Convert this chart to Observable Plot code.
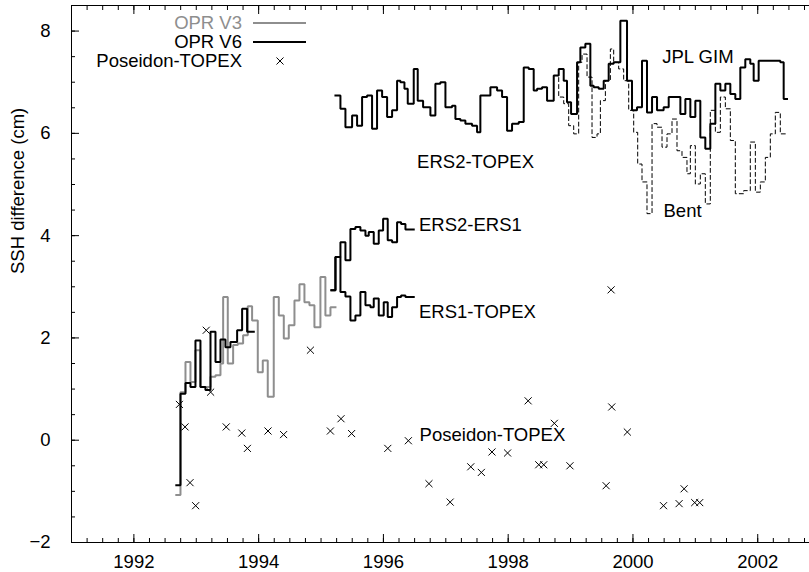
<!DOCTYPE html>
<html><head><meta charset="utf-8">
<script src="https://cdn.jsdelivr.net/npm/d3@7"></script>
<script src="https://cdn.jsdelivr.net/npm/@observablehq/plot@0.6"></script>
<style>body{margin:0;background:#fff;overflow:hidden} svg{display:block}</style>
</head><body><div id="chart"></div>
<script>
// ---- data (years, SSH difference in cm); last point closes the final step ----
const v3Years = [1992.68,1992.747,1992.827,1992.907,1992.987,1993.067,1993.228,1993.308,1993.388,1993.431,1993.505,1993.591,1993.666,1993.751,1993.826,1993.895,1993.986,1994.066,1994.146,1994.242,1994.323,1994.403,1994.483,1994.574,1994.654,1994.734,1994.814,1994.894,1994.990,1995.070,1995.151,1995.231];
const v3Values = [-1.07,0.94,1.53,1.14,1.76,1.04,1.24,1.27,1.50,2.80,1.50,1.86,1.89,2.05,2.62,2.34,1.33,1.56,0.85,2.80,2.44,1.99,2.25,2.73,3.05,2.70,2.64,2.21,3.19,2.44,2.60,2.60];

const v6EarlyYears = [1992.68,1992.747,1992.827,1992.907,1992.987,1993.067,1993.147,1993.228,1993.308,1993.388,1993.468,1993.548,1993.655,1993.735,1993.815,1993.922];
const v6EarlyValues = [-0.88,0.91,1.12,1.04,1.95,1.04,0.98,2.12,1.53,1.97,1.82,1.92,2.15,2.57,2.12,2.12];

const ers2ers1Years = [1995.167,1995.231,1995.311,1995.391,1995.471,1995.551,1995.631,1995.712,1995.765,1995.845,1995.925,1995.995,1996.069,1996.139,1996.219,1996.283,1996.353,1996.486];
const ers2ers1Values = [2.93,3.58,3.87,3.52,4.13,4.17,4.10,4.00,4.07,3.84,4.10,4.33,3.91,3.87,4.26,4.23,4.12,4.12];

const ers1topexYears = [1995.167,1995.231,1995.311,1995.391,1995.471,1995.551,1995.631,1995.712,1995.792,1995.845,1995.925,1996.005,1996.069,1996.139,1996.219,1996.283,1996.353,1996.486];
const ers1topexValues = [2.93,3.58,2.90,2.81,2.34,2.44,2.90,2.64,2.60,2.77,2.44,2.70,2.41,2.60,2.80,2.83,2.80,2.80];

const ers2topexYears = [1995.231,1995.311,1995.391,1995.498,1995.578,1995.658,1995.738,1995.818,1995.898,1995.979,1996.059,1996.139,1996.219,1996.272,1996.337,1996.390,1996.486,1996.550,1996.636,1996.753,1996.833,1996.913,1996.994,1997.100,1997.154,1997.234,1997.314,1997.421,1997.501,1997.554,1997.715,1997.822,1997.902,1997.982,1998.062,1998.169,1998.249,1998.329,1998.409,1998.463,1998.543,1998.623,1998.730,1998.810,1998.890,1998.943,1999.008,1999.104,1999.157,1999.237,1999.317,1999.371,1999.451,1999.531,1999.611,1999.691,1999.798,1999.905,1999.985,2000.065,2000.145,2000.225,2000.306,2000.386,2000.492,2000.573,2000.760,2000.840,2000.920,2001.000,2001.080,2001.160,2001.240,2001.321,2001.401,2001.481,2001.561,2001.641,2001.721,2001.801,2001.881,2001.935,2002.015,2002.362,2002.416,2002.469];
const ers2topexValues = [6.74,6.48,6.12,6.35,6.15,6.71,6.74,6.09,6.84,6.71,6.32,6.45,7.03,7.00,6.87,6.58,7.26,6.64,6.51,6.35,6.97,7.00,6.51,6.54,6.28,6.25,6.19,6.15,6.02,6.74,6.90,6.84,6.71,6.05,6.19,6.22,7.29,7.26,6.84,6.87,6.90,6.64,7.13,7.26,7.03,6.61,6.38,7.39,7.68,7.75,6.93,6.90,6.87,7.03,7.36,7.39,8.20,7.03,6.45,6.51,7.42,6.41,6.71,6.45,6.51,6.71,6.38,6.67,6.32,6.64,5.92,5.70,6.19,6.97,6.84,6.97,6.77,6.67,7.29,7.45,7.36,7.03,7.42,7.39,6.67,6.67];

const bentYears = [1998.730,1998.810,1998.890,1998.970,1999.050,1999.130,1999.184,1999.264,1999.344,1999.424,1999.478,1999.558,1999.638,1999.691,1999.771,1999.851,1999.932,2000.012,2000.076,2000.145,2000.225,2000.306,2000.386,2000.466,2000.546,2000.626,2000.706,2000.786,2000.866,2000.920,2001.000,2001.080,2001.160,2001.240,2001.321,2001.401,2001.481,2001.561,2001.641,2001.775,2001.881,2001.962,2002.042,2002.122,2002.202,2002.282,2002.362,2002.469];
const bentValues = [7.13,6.71,6.58,6.15,5.99,7.39,7.55,7.10,5.92,5.99,6.64,7.03,7.65,7.39,7.26,7.03,6.45,6.02,5.40,5.05,4.43,6.19,6.12,5.73,5.99,6.28,5.66,5.53,5.21,5.76,5.01,5.21,4.62,6.45,6.02,6.71,6.48,5.86,4.82,4.88,5.83,4.85,5.05,5.53,5.99,6.41,5.99,5.99];

const poseidonYears = [1992.73,1992.82,1992.90,1992.99,1993.16,1993.23,1993.48,1993.73,1993.82,1994.15,1994.40,1994.83,1995.15,1995.32,1995.49,1996.07,1996.40,1996.73,1997.07,1997.40,1997.57,1997.74,1997.99,1998.32,1998.49,1998.57,1998.74,1998.99,1999.65,1999.57,1999.66,1999.91,2000.49,2000.74,2000.82,2000.99,2001.07];
const poseidonValues = [0.70,0.26,-0.83,-1.28,2.15,0.94,0.26,0.14,-0.16,0.18,0.11,1.76,0.18,0.42,0.13,-0.16,-0.01,-0.85,-1.21,-0.52,-0.63,-0.23,-0.25,0.77,-0.48,-0.48,0.33,-0.50,2.94,-0.89,0.65,0.16,-1.28,-1.24,-0.95,-1.22,-1.22];

const labelTexts = ["JPL GIM","ERS2-TOPEX","Bent","ERS2-ERS1","ERS1-TOPEX","Poseidon-TOPEX"];
const labelYears = [2000.47,1996.54,2000.49,1996.57,1996.57,1996.58];
const labelValues = [7.49,5.44,4.49,4.20,2.51,0.10];

const xMajorTicks = [1992,1994,1996,1998,2000,2002];
const yMajorTicks = [-2,0,2,4,6,8];
const legendNames = ["OPR V3","OPR V6","Poseidon-TOPEX"];

// ---- build tables ----
const zip = (xs, ys) => xs.map((x, i) => ({x, y: ys[i]}));
const v3 = zip(v3Years, v3Values);
const v6early = zip(v6EarlyYears, v6EarlyValues);
const e21 = zip(ers2ers1Years, ers2ers1Values);
const e1t = zip(ers1topexYears, ers1topexValues);
const e2t = zip(ers2topexYears, ers2topexValues);
const bent = zip(bentYears, bentValues);
const pos = zip(poseidonYears, poseidonValues);
const labels = labelTexts.map((t, i) => ({t, x: labelYears[i], y: labelValues[i]}));
const xMinorTicks = d3.range(1991, 2002.9, 0.25);
const yMinorTicks = d3.range(-2, 8.51, 0.5);

const FS = 18.5;
const gray = "#8e8e8e";
const lineOpts = {x: "x", y: "y", curve: "step-after", strokeWidth: 2, strokeLinejoin: "miter", strokeLinecap: "square"};

const chart = Plot.plot({
  width: 809, height: 572,
  marginLeft: 71, marginRight: 0, marginTop: 5, marginBottom: 30,
  style: {fontFamily: "'Liberation Sans', Arial, Helvetica, sans-serif", fontSize: FS + "px", background: "white", color: "black", overflow: "visible"},
  x: {domain: [1991, 2002.83], label: null},
  y: {domain: [-2, 8.5], label: null},
  marks: [
    Plot.ruleX([1991], {stroke: "black", strokeWidth: 1}),
    Plot.ruleY([-2, 8.5], {stroke: "black", strokeWidth: 1}),
    Plot.axisX({anchor: "bottom", ticks: xMajorTicks, tickSize: 0, tickPadding: 12, tickFormat: d => String(d), label: null}),
    Plot.axisX({anchor: "bottom", ticks: xMajorTicks, tickSize: -8, fill: "none", label: null}),
    Plot.axisX({anchor: "bottom", ticks: xMinorTicks, tickSize: -4, fill: "none", label: null}),
    Plot.axisX({anchor: "top", ticks: xMajorTicks, tickSize: -8, fill: "none", label: null}),
    Plot.axisX({anchor: "top", ticks: xMinorTicks, tickSize: -4, fill: "none", label: null}),
    Plot.axisY({anchor: "left", ticks: yMajorTicks, tickSize: 0, tickPadding: 21, label: null}),
    Plot.axisY({anchor: "left", ticks: yMajorTicks, tickSize: -8, fill: "none", label: null}),
    Plot.axisY({anchor: "left", ticks: yMinorTicks, tickSize: -4, fill: "none", label: null}),
    Plot.text(["SSH difference (cm)"], {frameAnchor: "left", rotate: -90, dx: -53, text: d => d}),
    Plot.line(v3, {...lineOpts, stroke: gray}),
    Plot.line(bent, {x: "x", y: "y", curve: "step-after", stroke: "black", strokeWidth: 1, strokeDasharray: "4,3"}),
    Plot.line(v6early, {...lineOpts, stroke: "black"}),
    Plot.line(e21, {...lineOpts, stroke: "black"}),
    Plot.line(e1t, {...lineOpts, stroke: "black"}),
    Plot.line(e2t, {...lineOpts, stroke: "black"}),
    Plot.dot(pos, {x: "x", y: "y", symbol: "times", r: 3.3, stroke: "black", strokeWidth: 1}),
    Plot.text(labels, {x: "x", y: "y", text: "t", textAnchor: "start", lineAnchor: "middle", fill: "black"})
  ]
});
document.getElementById("chart").append(chart);

// ---- legend (top-left, inside the frame) ----
const svg = d3.select(chart);
const lg = svg.append("g").attr("font-family", "'Liberation Sans', Arial, Helvetica, sans-serif").attr("font-size", FS);
const legendRows = [
  {name: legendNames[0], color: gray, kind: "line", y: 23},
  {name: legendNames[1], color: "black", kind: "line", y: 42},
  {name: legendNames[2], color: "black", kind: "x", y: 61}
];
legendRows.forEach(r => {
  lg.append("text").attr("x", 242).attr("y", r.y).attr("dy", "0.35em").attr("text-anchor", "end").attr("fill", r.color).text(r.name);
  if (r.kind === "line") {
    lg.append("line").attr("x1", 253).attr("x2", 306).attr("y1", r.y).attr("y2", r.y).attr("stroke", r.color).attr("stroke-width", 2);
  } else {
    lg.append("path").attr("d", d3.symbol(d3.symbolTimes, Math.PI * 3.3 * 3.3)()).attr("transform", `translate(280,${r.y})`).attr("stroke", "black").attr("fill", "none");
  }
});
</script>
</body></html>
